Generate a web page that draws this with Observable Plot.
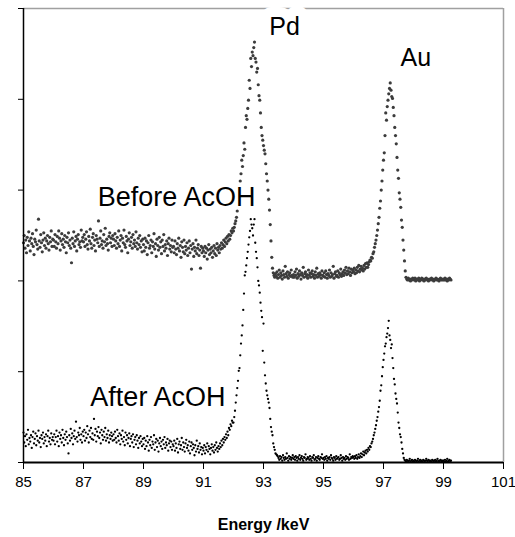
<!DOCTYPE html>
<html>
<head>
<meta charset="utf-8">
<script src="https://cdn.jsdelivr.net/npm/d3@7"></script>
<script src="https://cdn.jsdelivr.net/npm/@observablehq/plot@0.6"></script>
<style>
  body { margin: 0; background: #fff; }
  #chart svg { display: block; }
</style>
</head>
<body>
<div id="chart"></div>
<script>
// Energy grid of the scan (keV)
const energyStart = 85;
const energyStep = 0.025;

const xDomain = [85, 101];
const xTicks = [85, 87, 89, 91, 93, 95, 97, 99, 101];
const yDomain = [0, 500];
const yTicks = [0, 100, 200, 300, 400, 500];
const xLabel = "Energy /keV";

// Before AcOH (offset spectrum), one value per energy step, 85.000 … 99.250 keV
const beforeCounts = [
  242,250,236,245,231,248,239,254,244,233,247,241,252,238,229,246,243,256,240,235,268,244,237,251,242,232,245,253,239,247,236,244,250,241,234,248,243,255,238,246,
  245,238,251,243,236,249,241,255,247,234,244,252,240,246,237,250,243,231,248,242,253,239,245,236,220,247,241,254,238,244,249,233,246,251,240,243,237,256,244,248,
  243,251,238,246,254,240,235,249,244,257,241,236,248,252,239,245,233,250,246,242,266,238,247,255,240,244,236,251,243,258,239,246,241,234,249,253,242,247,238,250,
  246,239,252,244,236,248,241,255,238,245,250,233,247,242,256,240,237,249,244,231,246,253,239,243,248,236,251,241,245,238,254,242,235,247,240,250,237,244,232,246,
  240,233,247,237,244,229,242,250,236,239,245,231,243,238,252,235,241,227,246,239,234,248,237,243,230,245,238,251,233,240,236,244,228,241,247,235,239,232,245,237,
  238,231,244,235,229,241,236,247,233,239,226,243,237,232,245,230,238,234,242,228,236,244,231,239,213,235,241,227,237,233,245,230,236,240,228,234,214,238,231,236,
  233,227,238,231,236,224,234,240,229,235,231,237,226,233,239,230,236,228,241,234,237,231,239,235,242,236,240,245,238,243,247,241,249,244,251,246,250,255,253,258,
  255,259,263,266,270,277,286,293,301,310,318,333,326,338,352,345,369,382,378,390,399,421,412,445,436,452,448,457,463,445,441,430,434,416,404,399,385,369,360,355,
  349,344,340,329,318,310,300,290,278,262,244,226,214,209,206,204,208,205,210,203,207,212,204,209,206,202,211,207,204,216,208,205,210,203,207,209,205,212,206,204,
  207,204,210,206,213,203,208,205,211,207,202,209,206,215,204,208,210,205,207,203,212,206,209,204,208,211,205,207,203,210,206,214,204,208,205,209,207,203,211,206,
  205,209,204,211,207,203,208,206,212,204,209,205,207,216,203,208,210,205,206,211,204,209,207,213,205,208,210,206,212,209,215,207,211,208,214,210,206,213,209,212,
  210,214,208,212,209,215,211,217,210,213,216,212,214,211,217,213,219,215,220,215,218,221,223,222,226,225,230,232,237,241,245,250,256,263,270,280,288,300,310,322,
  333,341,360,385,377,392,399,406,412,418,410,403,401,391,382,369,360,351,336,322,313,297,290,281,267,259,245,234,222,211,204,202,201,203,201,202,200,202,201,203,
  202,201,203,200,202,201,202,203,200,201,202,203,201,202,200,202,201,203,202,201,200,202,201,202,203,201,202,200,201,202,203,201,202,201,200,202,203,201,202,201,
  202,201,203,201,202,200,202,201,203,202,201
];

// After AcOH, one value per energy step, 85.000 … 99.250 keV
const afterCounts = [
  33,22,29,18,31,25,36,20,27,23,30,16,28,34,21,26,32,19,29,24,35,22,27,17,30,26,33,21,28,24,31,18,29,35,23,27,20,32,25,28,
  24,31,20,28,35,23,29,18,33,26,30,22,36,27,19,31,25,34,28,21,10,30,24,37,27,32,20,29,35,26,45,28,23,33,30,38,25,31,22,34,
  29,36,24,33,27,40,31,22,35,28,38,26,32,25,48,30,37,23,34,29,39,27,33,21,36,30,25,34,28,38,24,31,27,35,22,30,26,33,29,24,
  31,25,34,27,22,36,29,24,32,20,30,26,35,23,28,19,33,25,30,21,27,32,18,26,29,22,31,17,25,28,20,30,24,16,27,21,29,23,18,26,
  20,27,15,24,18,29,22,13,25,19,28,16,23,20,30,14,22,26,17,24,12,21,27,18,23,15,25,20,28,16,22,19,26,13,21,24,17,23,14,20,
  18,24,13,21,16,26,11,20,23,15,19,27,14,22,17,12,21,25,16,19,13,23,10,18,22,14,20,16,8,19,12,24,15,18,11,21,14,17,9,16,
  13,19,10,17,14,21,12,18,15,9,16,20,13,17,11,19,14,22,16,12,18,15,21,17,24,19,26,22,28,25,31,27,34,30,38,36,42,40,46,44,
  44,50,57,66,74,82,90,101,104,118,131,140,151,168,186,206,210,217,225,232,240,248,255,268,262,258,250,262,268,242,232,225,215,200,195,187,176,167,160,123,
  153,110,96,87,79,74,70,66,60,48,39,34,30,21,17,14,10,9,8,7,5,3,7,4,6,2,8,5,3,6,4,10,5,2,7,4,6,3,5,8,
  4,6,3,7,5,2,6,4,8,3,5,7,4,2,6,5,9,3,4,6,5,3,7,4,2,6,5,8,3,4,6,2,5,7,4,3,6,5,9,4,
  5,3,6,4,7,2,5,4,6,3,8,5,4,2,6,5,3,7,4,5,6,3,4,8,5,2,6,4,5,3,7,4,6,5,3,9,4,6,5,7,
  6,4,7,5,8,4,6,9,5,7,10,6,9,12,8,11,13,10,14,12,16,14,18,17,21,23,26,30,33,37,41,46,50,56,61,68,79,85,95,105,
  113,120,128,131,138,142,148,156,140,135,126,130,115,104,92,86,76,70,65,55,44,38,31,28,22,15,10,5,3,2,1,3,2,1,2,4,1,2,3,1,
  2,1,3,2,1,2,4,1,2,3,1,2,1,3,2,1,2,4,2,1,3,2,1,2,1,3,2,1,2,3,1,2,4,1,2,1,3,2,1,2,
  2,1,3,1,2,4,1,2,3,1,2
];

// Annotations (text, energy keV, value)
const peakLabels = [
  {text: "Pd", energy: 93.7, value: 480},
  {text: "Au", energy: 98.08, value: 446}
];
const seriesLabels = [
  {text: "Before AcOH", energy: 92.73, value: 292},
  {text: "After AcOH", energy: 91.73, value: 72}
];

const toRows = (vals) => vals.map((v, i) => ({energy: energyStart + i * energyStep, value: v}));
const before = toRows(beforeCounts);
const after = toRows(afterCounts);

const font = "'Liberation Sans', Arial, Helvetica, sans-serif";

const chart = Plot.plot({
  width: 515,
  height: 537,
  marginLeft: 23,
  marginRight: 12,
  marginTop: 8,
  marginBottom: 75,
  style: {fontFamily: font, background: "#fff", color: "#000"},
  x: {domain: xDomain},
  y: {domain: yDomain},
  marks: [
    Plot.ruleY([yDomain[1]], {stroke: "#a0a0a0", strokeWidth: 1.5}),
    Plot.ruleX([xDomain[1]], {stroke: "#a0a0a0", strokeWidth: 1.5}),
    Plot.dot(before, {x: "energy", y: "value", r: 1.6, fill: "#3c3c3c", stroke: "none"}),
    Plot.dot(after, {x: "energy", y: "value", r: 1.15, fill: "#000", stroke: "none"}),
    Plot.ruleX([xDomain[0]], {stroke: "#000", strokeWidth: 1.5}),
    Plot.ruleY([yDomain[0]], {stroke: "#000", strokeWidth: 2}),
    Plot.axisX({ticks: xTicks, tickSize: 7, tickPadding: 7, fontSize: 15, label: null, tickFormat: d => String(d)}),
    Plot.axisY({ticks: yTicks, tickSize: 5, tickFormat: () => "", label: null}),
    Plot.text(peakLabels, {x: "energy", y: "value", text: "text", fontSize: 25, fill: "#000",
      stroke: "#fff", strokeWidth: 20, paintOrder: "stroke", lineAnchor: "middle"}),
    Plot.text(seriesLabels, {x: "energy", y: "value", text: "text", fontSize: 27, fill: "#000",
      textAnchor: "end", stroke: "#fff", strokeWidth: 5, paintOrder: "stroke", lineAnchor: "middle"}),
    Plot.text([xLabel], {text: d => d, frameAnchor: "bottom", dy: 67, fontSize: 16, fontWeight: "bold", fill: "#000"})
  ]
});

document.getElementById("chart").appendChild(chart);
</script>
</body>
</html>
